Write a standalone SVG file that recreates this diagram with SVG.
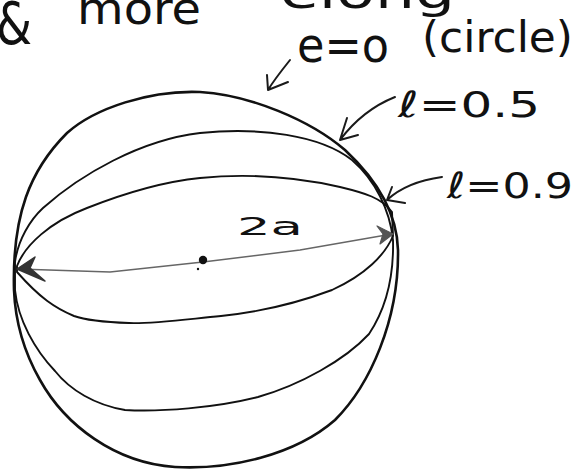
<svg xmlns="http://www.w3.org/2000/svg" width="577" height="470" viewBox="0 0 577 470">
<style>
.ink{fill:none;stroke:#111;stroke-linecap:round;stroke-linejoin:round}
.thick{stroke-width:2.6}
.thin{stroke-width:1.9}
.lbl{stroke:#1a1a1a;stroke-width:2;fill:none;stroke-linecap:round;stroke-linejoin:round}
.dim{stroke:#666;stroke-width:1.6;fill:none;stroke-linecap:round}
text{font-family:"DejaVu Sans","Liberation Sans",sans-serif;fill:#111}
</style>
<rect width="577" height="470" fill="#fff"/>
<g id="heading">
<text x="-4" y="44" font-size="58" textLength="36" lengthAdjust="spacingAndGlyphs">&amp;</text>
<text x="77" y="24" font-size="44" textLength="124" lengthAdjust="spacingAndGlyphs">more</text>
<text x="280" y="8" font-size="44" textLength="175" lengthAdjust="spacingAndGlyphs">elong</text>
</g>
<g id="circle-e0">
<path class="ink thick" d="M14,290 C12,215 30,170 67,133 C95,108 150,90 200,92 C250,95 310,120 345,150 C375,178 397,210 398,250 C399,320 370,385 335,420 C295,455 230,470 175,467 C115,463 65,425 40,380 C20,345 15,315 14,290 Z"/>
</g>
<g id="ellipse-e05">
<path class="ink thin" d="M15,262 C18,240 30,220 43,208 C80,175 140,140 200,133 C260,127 320,135 352,160 C375,180 390,210 393,240 C394,280 385,310 369,334 C345,360 300,385 258,397 C215,408 160,412 125,410 C95,405 70,390 55,371 C35,350 18,320 15,290 Z"/>
</g>
<g id="ellipse-e09">
<path class="ink thin" d="M17,266 C25,245 50,222 87,208 C120,195 160,182 200,178 C250,173 300,178 340,187 C365,193 382,198 392,212 L393,236 C385,255 365,275 332,290 C300,302 260,312 221,316 C180,320 150,324 129,323 C100,322 85,320 74,316 C55,308 40,298 17,272 Z"/>
</g>
<g id="labels">
<text x="297" y="62" font-size="48" textLength="92" lengthAdjust="spacingAndGlyphs">e=o</text>
<text x="422" y="52" font-size="42" textLength="151" lengthAdjust="spacingAndGlyphs">(circle)</text>
<text x="398" y="117" font-size="36" textLength="142" lengthAdjust="spacingAndGlyphs">ℓ=0.5</text>
<text x="447" y="198" font-size="36" textLength="126" lengthAdjust="spacingAndGlyphs">ℓ=0.9</text>
<text x="237" y="235" font-size="24" textLength="66" lengthAdjust="spacingAndGlyphs">2a</text>
</g>
<g id="connectors">
<path class="lbl" d="M290,60 C282,70 274,80 268,90 M268,90 L267,75 M268,90 L288,82"/>
<path class="lbl" d="M395,97 C375,105 355,120 340,140 M340,140 L347,118 M340,140 L358,135"/>
<path class="lbl" d="M442,177 C420,180 400,188 387,200 M387,200 L392,187 M387,200 L405,203"/>
<polyline class="dim" points="18,269 110,272 203,262 300,250 392,234"/>
<path d="M17,269 L35,257 L30,268 L45,281 Z" fill="#333" stroke="#333" stroke-width="1.5" stroke-linejoin="round"/>
<path d="M393,234 L377,226 L383,234 L380,244 Z" fill="#555" stroke="#555" stroke-width="1.2" stroke-linejoin="round"/>
<circle cx="203" cy="260" r="4.2" fill="#111"/>
<circle cx="198" cy="269" r="1.2" fill="#111"/>
</g>
</svg>
